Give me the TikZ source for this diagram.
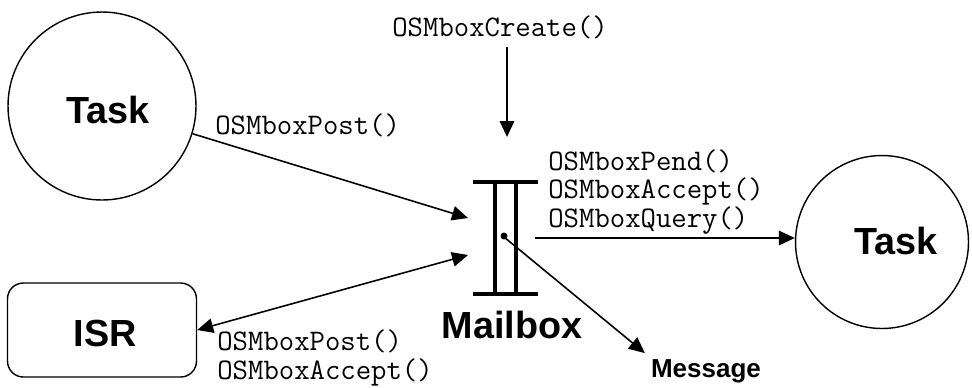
\documentclass[tikz,border=0pt]{standalone}
\usepackage{fontspec}
\setmainfont{Liberation Sans}
\usetikzlibrary{arrows.meta}

\begin{document}
\begin{tikzpicture}[
  x=0.02cm, y=-0.02cm,
  big/.style={font=\fontsize{21.5}{24}\selectfont\bfseries, inner sep=0pt},
  call/.style={font=\fontsize{17}{16.2}\selectfont\ttfamily, align=left,
    inner sep=0pt, anchor=west},
  task/.style={draw, circle, line width=0.8pt, inner sep=0pt},
  isrbox/.style={draw, rounded corners=9pt, line width=0.8pt,
    minimum width=3.78cm, minimum height=1.88cm},
  arr/.style={-{Triangle[length=3.2mm,width=2.9mm]}, line width=0.9pt},
  dbl/.style={{Triangle[length=3.2mm,width=2.9mm]}-{Triangle[length=3.2mm,width=2.9mm]},
    line width=0.9pt},
  bar/.style={line width=2.8pt}
]
\useasboundingbox (0,0) rectangle (972,387);

% ── Senders and receiver ────────────────────────────────────────────────
\node[task, minimum size=3.76cm] (taskL) at (102,106) {};
\node[big] (taskLtxt) at (108,110) {Task};
\node[isrbox] (isr) at (102,330) {};
\node[big] (isrtxt) at (105,333) {ISR};
\node[task, minimum size=3.46cm] (taskR) at (882,242) {};
\node[big] (taskRtxt) at (896,241) {Task};

% ── The mailbox itself ──────────────────────────────────────────────────
\draw[bar] (473,182) -- (538,182);
\draw[bar] (473,294) -- (538,294);
\draw[bar] (495,182) -- (495,294);
\draw[bar] (516,182) -- (516,294);
\fill (504,236) circle (3.5);
\coordinate (mbin)  at (468,218);
\coordinate (mbisr) at (468,255);
\coordinate (mbtop) at (507,137);
\coordinate (mbout) at (535,238);
\coordinate (mbdot) at (504,237);
\node[big] (mblabel) at (512,325) {Mailbox};
\node[font=\fontsize{14.8}{16}\selectfont\bfseries] (msg) at (706,371) {Message};

% ── Calls ───────────────────────────────────────────────────────────────
\node[call] (create) at (392,27) {OSMboxCreate()};
\node[call] (post) at (215,125) {OSMboxPost()};
\node[call] (pend) at (548,192) {OSMboxPend()\\OSMboxAccept()\\OSMboxQuery()};
\node[call] (isrcall) at (217,358) {OSMboxPost()\\OSMboxAccept()};

\draw[arr, shorten <=1.6mm] (create.south -| mbtop) -- (mbtop);
\draw[arr] (taskL) -- (mbin);
\draw[dbl] (isr.east) -- (mbisr);
\draw[arr] (mbout) -- (mbout -| taskR.west);
\draw[arr] (mbdot) -- (msg.north west);

\end{tikzpicture}
\end{document}
